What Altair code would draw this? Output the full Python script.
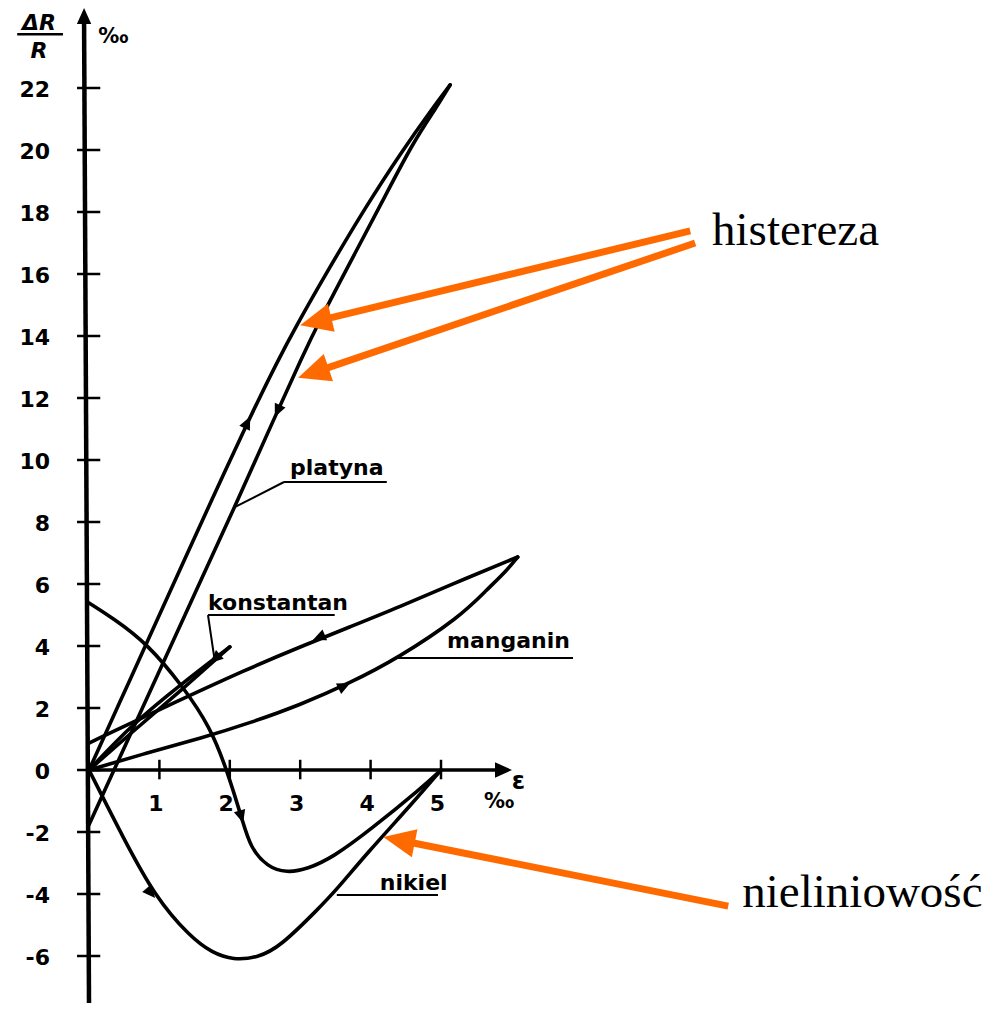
import math
import altair as alt
import pandas as pd

# ---------------- layout (pixels) ----------------
W, H = 980, 995
OX, OY = 81.0, 762.0          # origin inside plot area
SX, SY = 70.4, 31.0           # pixels per unit
XMIN, XMAX = -OX / SX, (W - OX) / SX
YMIN, YMAX = -(H - OY) / SY, OY / SY

# ---------------- curve data (eps ‰, dR/R ‰) ----------------
platyna_up_x = [0.0, 0.44, 0.82, 1.29, 1.74, 2.29, 2.67, 2.93, 3.38, 3.94, 4.42, 4.89, 5.13]
platyna_up_y = [0.0, 2.2, 4.1, 6.45, 8.7, 11.4, 13.15, 14.27, 16.07, 18.2, 19.88, 21.38, 22.1]
platyna_dn_x = [5.13, 4.94, 4.60, 4.23, 3.75, 3.28, 3.02, 2.64, 2.07, 1.48, 1.05, 0.62, 0.40, 0.0]
platyna_dn_y = [22.1, 21.39, 20.23, 18.61, 16.55, 14.52, 13.29, 11.39, 8.48, 5.58, 3.45, 1.31, 0.22, -1.77]

konst_up_x = [0.0, 0.625, 1.3, 2.0]
konst_up_y = [0.0, 1.5, 2.75, 3.97]
konst_dn_x = [2.0, 1.3, 0.625, 0.0]
konst_dn_y = [3.97, 2.55, 1.25, 0.0]

mang_up_x = [0.0, 0.82, 1.6, 2.29, 3.0, 3.71, 4.39, 5.27, 5.65, 5.94, 6.09]
mang_up_y = [0.0, 0.55, 1.03, 1.52, 2.10, 2.81, 3.61, 4.94, 5.81, 6.45, 6.87]
mang_dn_x = [6.09, 5.13, 4.42, 3.71, 3.0, 2.29, 1.0, 0.0]
mang_dn_y = [6.87, 5.97, 5.27, 4.62, 3.97, 3.3, 1.95, 0.87]

nik_up_x = [0.0, 0.48, 0.94, 1.44, 1.75, 2.05, 2.4, 2.71, 3.27, 3.52, 3.95, 4.60, 5.0]
nik_up_y = [0.0, -2.16, -4.1, -5.39, -5.9, -6.13, -6.05, -5.71, -4.45, -3.85, -2.68, -1.06, 0.0]
nik_dn_x = [5.0, 4.74, 3.99, 3.47, 3.1, 2.81, 2.53, 2.29, 2.19, 1.96, 1.72, 1.34, 0.82, 0.34, 0.0]
nik_dn_y = [0.0, -0.55, -1.94, -2.81, -3.2, -3.32, -3.13, -2.48, -1.71, 0.0, 1.39, 2.68, 4.10, 4.9, 5.39]

# ---------------- axes ----------------
y_ticks = [-6, -4, -2, 0, 2, 4, 6, 8, 10, 12, 14, 16, 18, 20, 22]
y_tick_labels = ["-6", "-4", "-2", "0", "2", "4", "6", "8", "10", "12", "14", "16", "18", "20", "22"]
x_ticks = [1, 2, 3, 4, 5]
x_tick_labels = ["1", "2", "3", "4", "5"]

# ---------------- curve labels ----------------
curve_labels = ["platyna", "konstantan", "manganin", "nikiel"]
curve_label_x = [2.855, 1.69, 5.085, 4.13]
curve_label_y = [9.52, 5.16, 3.94, -3.87]

# leader / underline segments
lead_x = [2.77, 2.77, 1.69, 1.69, 4.39, 3.52]
lead_y = [9.29, 9.29, 5.0, 5.0, 3.61, -4.03]
lead_x2 = [4.23, 2.07, 3.49, 1.78, 6.875, 4.957]
lead_y2 = [9.29, 8.48, 5.0, 3.62, 3.61, -4.03]

# small direction arrows on curves: position + direction
dir_x = [2.29, 2.64, 3.18, 3.71, 0.94, 2.19, 1.72]
dir_y = [11.4, 11.39, 4.19, 2.81, -4.13, -1.71, 3.45]
dir_dx = [0.42, -0.57, -1.0, 0.7, 0.5, 0.1, -1.0]
dir_dy = [2.0, -2.91, -0.985, 0.8, -1.3, -0.77, -2.0]

# ---------------- annotations ----------------
note_text = ["histereza", "nieliniowość"]
note_x = [8.85, 9.28]
note_y = [16.94, -4.42]

oarrow_x = [8.54, 8.61, 9.08]
oarrow_y = [17.39, 17.0, -4.39]
oarrow_tx = [3.0, 2.97, 4.18]
oarrow_ty = [14.35, 12.65, -2.16]

ORANGE = "#ff6a00"
ARROW = "M0,0L-0.45,1L0.45,1Z"
FONT = "DejaVu Sans"


def to_px(x, y):
    return OX + x * SX, OY - y * SY


def from_px(px, py):
    return (px - OX) / SX, (OY - py) / SY


def ang(dx, dy):
    dxp, dyp = dx * SX, -dy * SY
    return (math.degrees(math.atan2(dxp, -dyp)) + 360) % 360


xs = alt.Scale(domain=[XMIN, XMAX], nice=False, zero=False)
ys = alt.Scale(domain=[YMIN, YMAX], nice=False, zero=False)


def X(f="x"):
    return alt.X(f"{f}:Q", scale=xs, axis=None)


def Y(f="y"):
    return alt.Y(f"{f}:Q", scale=ys, axis=None)


# curves
rows = []
for name, cx, cy in [
    ("platyna_up", platyna_up_x, platyna_up_y),
    ("platyna_dn", platyna_dn_x, platyna_dn_y),
    ("konst_up", konst_up_x, konst_up_y),
    ("konst_dn", konst_dn_x, konst_dn_y),
    ("mang_up", mang_up_x, mang_up_y),
    ("mang_dn", mang_dn_x, mang_dn_y),
    ("nik_up", nik_up_x, nik_up_y),
    ("nik_dn", nik_dn_x, nik_dn_y),
]:
    for a, b in zip(cx, cy):
        rows.append({"series": name, "x": a, "y": b})
curve_df = pd.DataFrame(rows)

curves = alt.Chart(curve_df).mark_line(
    color="black", strokeWidth=3.6, interpolate="basis", strokeCap="round"
).encode(x=X(), y=Y(), detail="series:N")

# axes lines
ytop_x = -0.07
y_head = 16
x_head = 17
x_tip = from_px(512 - 8, 0)[0]
axis_df = pd.DataFrame({
    "x": [0.0, 0.0],
    "y": [YMIN, 0.0],
    "x2": [ytop_x, x_tip - (x_head - 2) / SX],
    "y2": [YMAX - (y_head - 2) / SY, 0.0],
    "w": [4.5, 3.6],
})
axes = alt.Chart(axis_df).mark_rule(color="black").encode(
    x=X(), y=Y(), x2="x2:Q", y2="y2:Q", strokeWidth=alt.StrokeWidth("w:Q", scale=None)
)
axis_heads_df = pd.DataFrame({
    "x": [ytop_x, x_tip], "y": [YMAX, 0.0], "angle": [0.0, 90.0], "size": [(2 * y_head) ** 2, (2 * x_head) ** 2]
})
axis_heads = alt.Chart(axis_heads_df).mark_point(
    shape=ARROW, filled=True, color="black", opacity=1, strokeWidth=0
).encode(x=X(), y=Y(), angle=alt.Angle("angle:Q", scale=None), size=alt.Size("size:Q", scale=None))

# ticks
ytick_df = pd.DataFrame({"y": y_ticks, "x": [-0.17] * len(y_ticks), "x2": [0.16] * len(y_ticks)})
yticks = alt.Chart(ytick_df).mark_rule(color="black", strokeWidth=2.5).encode(x=X(), x2="x2:Q", y=Y())
xtick_df = pd.DataFrame({"x": x_ticks, "y": [-0.3] * len(x_ticks), "y2": [0.33] * len(x_ticks)})
xticks = alt.Chart(xtick_df).mark_rule(color="black", strokeWidth=2.5).encode(x=X(), y=Y(), y2="y2:Q")

ylab_df = pd.DataFrame({"y": [v - 0.29 for v in y_ticks], "t": y_tick_labels, "x": [from_px(50 - 8, 0)[0]] * len(y_ticks)})
ylabs = alt.Chart(ylab_df).mark_text(
    font=FONT, fontSize=22, fontWeight="bold", align="right", baseline="alphabetic", color="black"
).encode(x=X(), y=Y(), text="t:N")
xlab_df = pd.DataFrame({"x": [v - 0.05 for v in x_ticks], "t": x_tick_labels, "y": [-1.32] * len(x_ticks)})
xlabs = alt.Chart(xlab_df).mark_text(
    font=FONT, fontSize=22, fontWeight="bold", align="center", baseline="alphabetic", color="black"
).encode(x=X(), y=Y(), text="t:N")

# axis titles (fraction dR / R)
title_df = pd.DataFrame({
    "t": ["ΔR", "R"],
    "x": [-0.71, -0.71],
    "y": [23.87, 22.97],
})
titles = alt.Chart(title_df).mark_text(
    font=FONT, fontSize=22, fontWeight="bold", fontStyle="italic", align="center", baseline="alphabetic", color="black"
).encode(x=X(), y=Y(), text="t:N")
frac_df = pd.DataFrame({"x": [-1.02], "x2": [-0.37], "y": [23.73]})
frac = alt.Chart(frac_df).mark_rule(color="black", strokeWidth=2.5).encode(x=X(), x2="x2:Q", y=Y())
unit_df = pd.DataFrame({"t": ["‰", "‰"], "x": [0.13, 5.61], "y": [23.45, -1.23]})
units = alt.Chart(unit_df).mark_text(
    font=FONT, fontSize=21, fontWeight="bold", align="left", baseline="alphabetic", color="black"
).encode(x=X(), y=Y(), text="t:N")
eps_df = pd.DataFrame({"t": ["ε"], "x": [6.1], "y": [-0.6]})
eps = alt.Chart(eps_df).mark_text(
    font=FONT, fontSize=24, fontWeight="bold", align="center", baseline="alphabetic", color="black"
).encode(x=X(), y=Y(), text="t:N")

# curve labels + leaders
cl_df = pd.DataFrame({"t": curve_labels, "x": curve_label_x, "y": curve_label_y})
clabels = alt.Chart(cl_df).mark_text(
    font=FONT, fontSize=22, fontWeight="bold", align="left", baseline="alphabetic", color="black"
).encode(x=X(), y=Y(), text="t:N")
lead_df = pd.DataFrame({"x": lead_x, "y": lead_y, "x2": lead_x2, "y2": lead_y2})
leaders = alt.Chart(lead_df).mark_rule(color="black", strokeWidth=2).encode(x=X(), y=Y(), x2="x2:Q", y2="y2:Q")

# small curve arrows
dir_df = pd.DataFrame({"x": dir_x, "y": dir_y, "angle": [ang(a, b) for a, b in zip(dir_dx, dir_dy)]})
dirs = alt.Chart(dir_df).mark_point(
    shape=ARROW, filled=True, color="black", opacity=1, strokeWidth=0, size=26 ** 2
).encode(x=X(), y=Y(), angle=alt.Angle("angle:Q", scale=None))

# orange arrows
HEAD = 32
sx2, sy2, angs = [], [], []
for a, b, ta, tb in zip(oarrow_x, oarrow_y, oarrow_tx, oarrow_ty):
    p0 = to_px(a, b)
    p1 = to_px(ta, tb)
    L = math.hypot(p0[0] - p1[0], p0[1] - p1[1])
    ux, uy = (p0[0] - p1[0]) / L, (p0[1] - p1[1]) / L
    e = from_px(p1[0] + ux * HEAD * 0.8, p1[1] + uy * HEAD * 0.8)
    sx2.append(e[0])
    sy2.append(e[1])
    angs.append(ang(ta - a, tb - b))
oshaft_df = pd.DataFrame({"x": oarrow_x, "y": oarrow_y, "x2": sx2, "y2": sy2})
oshaft = alt.Chart(oshaft_df).mark_rule(color=ORANGE, strokeWidth=7).encode(x=X(), y=Y(), x2="x2:Q", y2="y2:Q")
ohead_df = pd.DataFrame({"x": oarrow_tx, "y": oarrow_ty, "angle": angs})
ohead = alt.Chart(ohead_df).mark_point(
    shape=ARROW, filled=True, color=ORANGE, opacity=1, strokeWidth=0, size=(2 * HEAD) ** 2
).encode(x=X(), y=Y(), angle=alt.Angle("angle:Q", scale=None))

note_df = pd.DataFrame({"t": note_text, "x": note_x, "y": note_y})
notes = alt.Chart(note_df).mark_text(
    font="Liberation Serif", fontSize=47, align="left", baseline="alphabetic", color="black"
).encode(x=X(), y=Y(), text="t:N")

chart = alt.layer(
    axes, yticks, xticks, curves, leaders, dirs, axis_heads, frac,
    ylabs, xlabs, titles, units, eps, clabels, oshaft, ohead, notes
).properties(width=W, height=H, padding=0, autosize="none", background="white").configure_view(stroke=None)

chart.save("out.html", embed_options={"renderer": "svg", "actions": False})
